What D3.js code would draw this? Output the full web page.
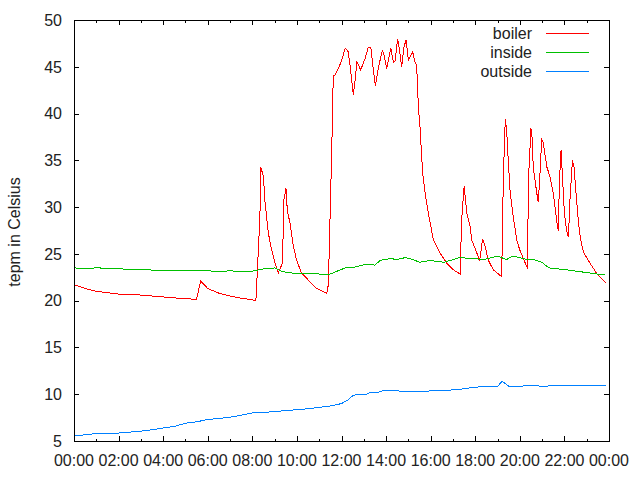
<!DOCTYPE html>
<html><head><meta charset="utf-8">
<script src="https://cdn.jsdelivr.net/npm/d3@7"></script>
<style>body{margin:0;background:#fff}svg{display:block}text{font-family:"Liberation Sans",Arial,sans-serif;font-size:16px;fill:#222}</style>
</head><body><svg id="c" width="640" height="480"></svg>
<script>
// times in hours since 00:00
const boilerT = [0,0.5,1,1.5,2,3,4,5,5.5,5.68,6,6.5,7,7.5,8,8.16,8.2,8.27,8.34,8.38,8.5,8.57,8.72,8.87,9.02,9.17,9.35,9.42,9.51,9.57,9.69,9.84,9.99,10.2,10.59,10.89,11.34,11.41,11.48,11.56,11.63,11.71,11.86,12.01,12.17,12.3,12.41,12.53,12.64,12.68,12.86,13.06,13.2,13.32,13.43,13.52,13.66,13.84,13.91,14.03,14.21,14.33,14.4,14.52,14.6,14.7,14.8,14.9,15.0,15.19,15.3,15.37,15.45,15.52,15.64,15.75,15.9,16.12,16.42,16.72,17.02,17.32,17.39,17.5,17.62,17.77,17.84,18.07,18.2,18.33,18.44,18.59,18.81,19.19,19.22,19.31,19.35,19.41,19.48,19.56,19.68,19.86,20.0,20.23,20.35,20.38,20.5,20.56,20.6,20.68,20.76,20.82,20.88,20.98,21.05,21.21,21.36,21.5,21.65,21.72,21.78,21.85,21.92,22.0,22.1,22.18,22.25,22.36,22.43,22.52,22.62,22.73,22.85,23.15,23.45,23.85];
const boilerV = [21.7,21.3,21.0,20.85,20.7,20.6,20.4,20.2,20.15,22.1,21.3,20.8,20.5,20.25,20.1,20.0,21.9,25.4,29.0,34.3,33.2,30.5,27.2,25.4,24.0,23.0,24.0,30.8,32.0,29.6,28.3,25.8,24.3,23.0,22.0,21.3,20.8,21.7,28.3,35.8,44.0,44.1,44.8,45.7,47.0,46.6,44.65,42.0,44.1,45.6,44.65,45.9,47.1,47.0,44.6,43.0,45.0,46.8,46.2,44.8,47.0,45.5,45.6,48.0,46.8,45.0,47.1,47.9,45.7,46.6,45.5,45.2,40.7,38.6,33.6,31.5,29.3,26.5,25.1,24.0,23.3,22.85,28.6,32.2,29.4,27.9,26.5,25.1,24.3,26.6,25.8,24.3,23.3,22.56,28.6,37.2,39.4,38.2,35.0,31.8,29.4,26.5,25.4,24.1,23.45,32.7,38.4,37.2,34.3,32.9,31.5,30.6,32.4,37.2,36.9,34.3,33.2,31.5,28.6,27.5,32.9,36.1,32.9,29.3,27.5,26.8,30.8,35.0,34.3,31.5,28.6,26.5,25.2,24.0,22.9,21.9];
const insideT = [0,0.5,1,2,2.5,3,4,5,6,6.5,7,7.5,8,8.5,9,9.3,9.6,10,11,11.5,12.16,12.6,13.13,13.5,13.73,14.18,14.5,14.85,15.2,15.5,15.97,16.6,17.3,17.9,18.4,19.0,19.4,19.7,20.3,20.6,21.0,21.3,22.1,23.0,23.8];
const insideV = [23.5,23.45,23.5,23.45,23.3,23.3,23.25,23.2,23.2,23.1,23.2,23.1,23.15,23.4,23.5,23.15,23.0,22.9,22.85,22.85,23.5,23.6,23.9,23.8,24.3,24.5,24.4,24.6,24.4,24.1,24.3,24.1,24.6,24.5,24.4,24.77,24.4,24.77,24.4,24.4,24.1,23.5,23.3,23.0,22.75];
const outsideT = [0,0.5,1,1.5,2,2.5,3,3.5,4,4.5,5,5.5,6,6.5,7,7.5,8,8.5,9,9.5,10,10.5,11.04,11.5,12.0,12.3,12.53,12.8,13.1,13.28,13.6,13.88,14.5,15.0,15.5,16.5,17.3,17.5,18.07,18.9,19.0,19.2,19.5,20.0,20.5,21.0,21.5,22.0,22.5,23.0,23.85];
const outsideV = [5.6,5.65,5.8,5.85,5.85,5.95,6.05,6.2,6.4,6.55,6.9,7.05,7.3,7.4,7.55,7.75,8.0,8.05,8.15,8.25,8.35,8.45,8.6,8.75,9.0,9.4,9.9,9.95,9.95,10.2,10.15,10.4,10.35,10.3,10.3,10.4,10.5,10.6,10.77,10.8,10.8,11.4,10.85,10.85,10.95,10.85,10.9,10.9,10.95,10.9,10.95];
const xTickLabels = ["00:00","02:00","04:00","06:00","08:00","10:00","12:00","14:00","16:00","18:00","20:00","22:00","00:00"];
const yTicks = [5,10,15,20,25,30,35,40,45,50];
const seriesNames = ["boiler","inside","outside"];
const seriesColors = ["#ff0000","#00c000","#0080ff"];

const svg = d3.select("#c");
const L=74, R=609, T=20, B=441;
const x = d3.scaleLinear().domain([0,24]).range([L,R]);
const y = d3.scaleLinear().domain([5,50]).range([B,T]);

const g = svg.append("g");
const series = [[boilerT,boilerV],[insideT,insideV],[outsideT,outsideV]];
const line = d3.line().x(d=>x(d[0])).y(d=>y(d[1]));
series.forEach((s,i)=>{
  const pts = s[0].map((t,j)=>[t,s[1][j]]);
  g.append("path").attr("d",line(pts)).attr("fill","none").attr("stroke",seriesColors[i]).attr("stroke-width",1).attr("shape-rendering","crispEdges");
});

// ticks
const ax = svg.append("g").attr("stroke","#000").attr("stroke-width",1).attr("shape-rendering","crispEdges");
d3.range(0,25,1).forEach(h=>{
  const len = h%2===0?5:2.5;
  const px = Math.round(x(h))+0.5;
  ax.append("line").attr("x1",px).attr("x2",px).attr("y1",B).attr("y2",B-len);
  ax.append("line").attr("x1",px).attr("x2",px).attr("y1",T).attr("y2",T+len);
});
yTicks.forEach(v=>{
  const py = Math.round(y(v))+0.5;
  ax.append("line").attr("x1",L).attr("x2",L+5).attr("y1",py).attr("y2",py);
  ax.append("line").attr("x1",R).attr("x2",R-5).attr("y1",py).attr("y2",py);
});
ax.append("rect").attr("x",L+0.5).attr("y",T+0.5).attr("width",R-L).attr("height",B-T).attr("fill","none");

xTickLabels.forEach((lab,i)=>{
  svg.append("text").attr("x",x(i*2)).attr("y",466).attr("text-anchor","middle").text(lab);
});
yTicks.forEach(v=>{
  svg.append("text").attr("x",62).attr("y",y(v)).attr("dy","0.36em").attr("text-anchor","end").text(v);
});
svg.append("text").attr("transform","translate(20,232) rotate(-90)").attr("text-anchor","middle").text("tepm in Celsius");

seriesNames.forEach((n,i)=>{
  const yy = 33+i*19;
  svg.append("text").attr("x",532).attr("y",yy).attr("dy","0.36em").attr("text-anchor","end").text(n);
  svg.append("line").attr("x1",546).attr("x2",589).attr("y1",yy+0.5).attr("y2",yy+0.5).attr("stroke",seriesColors[i]).attr("stroke-width",1).attr("shape-rendering","crispEdges");
});
</script></body></html>
